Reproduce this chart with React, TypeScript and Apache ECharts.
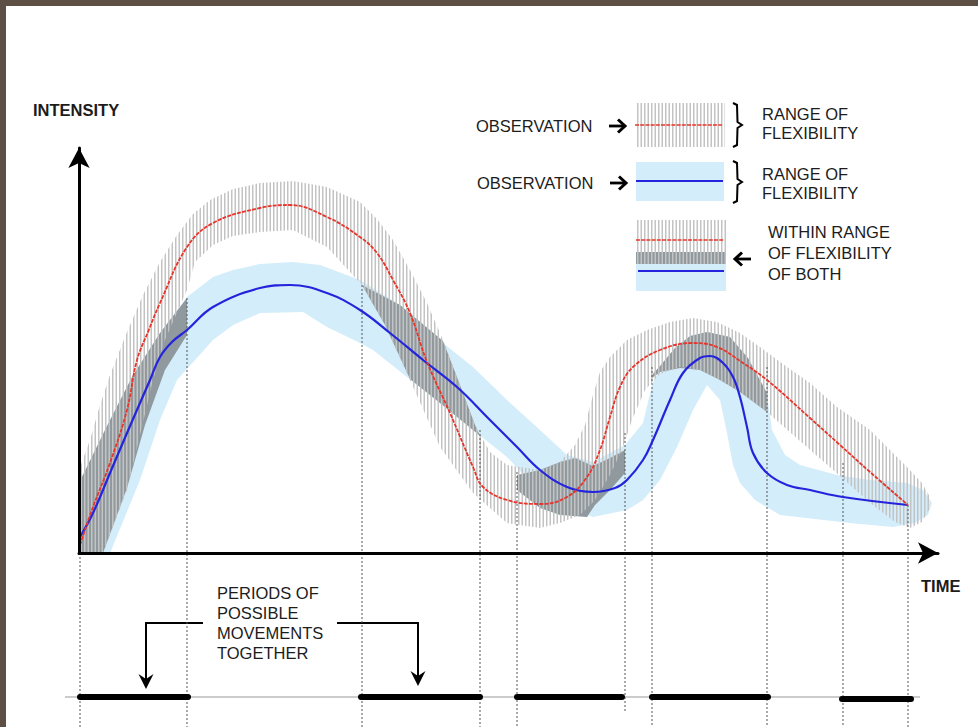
import React, { useEffect, useRef } from "react";
import * as echarts from "echarts";

// Units: time 0 at the origin of the axes, intensity 0 on the time axis.
const redObservation = [
  [1, 8], [14, 46], [31, 90], [48, 143], [58, 193], [69, 221], [81, 250], [108, 306],
  [134, 330], [181, 345], [211, 348], [248, 336], [281, 316], [298, 300], [314, 273],
  [331, 240], [348, 191], [371, 140], [394, 86], [404, 66], [428, 53], [461, 49],
  [488, 56], [508, 76], [521, 103], [531, 136], [541, 166], [554, 186], [581, 203],
  [614, 210], [638, 206], [664, 190], [688, 173], [731, 135], [761, 108], [791, 81], [829, 48],
];

const blueObservation = [
  [1, 16], [14, 40], [31, 80], [48, 120], [71, 173], [81, 196], [93, 211], [108, 223], [134, 246],
  [181, 265], [211, 268], [248, 260], [281, 243], [311, 220], [344, 193], [378, 166],
  [411, 133], [438, 106], [461, 83], [488, 66], [514, 61], [536, 65], [548, 73], [564, 93],
  [574, 113], [591, 153], [604, 180], [621, 195], [631, 197], [644, 190], [654, 176],
  [661, 156], [668, 126], [674, 100], [688, 80], [708, 68], [731, 63], [764, 56], [829, 48],
];

const redRangeUpper = [
  [0, 83], [11, 113], [21, 148], [31, 178], [48, 221], [64, 258], [81, 291], [98, 318],
  [114, 339], [131, 353], [154, 364], [181, 370], [214, 372], [248, 366], [281, 351],
  [298, 334], [314, 313], [331, 283], [348, 250], [364, 213], [381, 168], [396, 128],
  [411, 101], [428, 88], [461, 83], [481, 91], [496, 108], [506, 128], [514, 158],
  [521, 181], [531, 196], [548, 213], [568, 223], [591, 231], [614, 235], [638, 231],
  [661, 220], [681, 206], [708, 186], [731, 170], [758, 146], [791, 123], [828, 86],
  [843, 70], [851, 56],
];
const redRangeLower = [
  [851, 45], [843, 31], [831, 25], [816, 31], [791, 50], [761, 77], [721, 112], [688, 141],
  [661, 161], [641, 173], [621, 183], [601, 186], [581, 179], [566, 163], [553, 133],
  [543, 103], [531, 78], [516, 53], [501, 38], [481, 30], [461, 25], [428, 30], [394, 60],
  [361, 106], [331, 173], [306, 228], [283, 268], [248, 306], [214, 323], [181, 321],
  [154, 317], [134, 308], [116, 291], [108, 263], [86, 213], [74, 173], [48, 63], [24, 0], [0, 0],
];

const blueRangeUpper = [
  [0, 70], [27, 125], [53, 176], [81, 220], [108, 256], [134, 276], [154, 283], [181, 289],
  [214, 291], [241, 288], [281, 273], [321, 248], [364, 210], [394, 186], [428, 153],
  [461, 123], [488, 98], [514, 91], [546, 108], [564, 130], [573, 168], [581, 185],
  [596, 205], [611, 217], [628, 221], [651, 216], [669, 193], [688, 158], [693, 123],
  [706, 98], [721, 88], [758, 78], [791, 73], [828, 70], [844, 63], [853, 50],
];
const blueRangeLower = [
  [849, 38], [836, 30], [814, 26], [771, 30], [701, 38], [676, 53], [661, 70], [654, 88],
  [648, 120], [641, 153], [628, 168], [614, 143], [598, 106], [581, 73], [564, 53],
  [548, 43], [514, 36], [481, 46], [461, 61], [428, 96], [394, 123], [361, 150], [328, 176],
  [294, 203], [281, 210], [248, 226], [224, 241], [181, 240], [154, 228], [134, 213],
  [116, 193], [98, 173], [81, 133], [61, 73], [31, 0], [0, 0],
];

const overlapA = [
  [0, 70], [27, 125], [53, 176], [81, 220], [108, 255], [108, 218], [86, 183], [66, 128],
  [48, 65], [24, 0], [0, 0],
];
const overlapB = [
  [283, 268], [321, 248], [364, 212], [381, 168], [396, 128], [401, 117], [394, 123],
  [361, 150], [331, 174], [306, 228],
];
const overlapC = [
  [438, 78], [461, 83], [481, 91], [496, 95], [514, 87], [531, 95], [546, 103], [546, 80],
  [531, 63], [516, 48], [508, 36], [481, 38], [461, 45], [438, 63],
];
const overlapD = [
  [573, 178], [581, 187], [596, 205], [611, 217], [628, 221], [651, 216], [669, 195],
  [688, 160], [688, 141], [661, 161], [641, 173], [621, 183], [601, 185], [581, 181], [573, 175],
];

// [time, from intensity, to intensity]
const guideLines = [
  [1, 0, -174], [108, 255, -174], [283, 268, -174], [401, 123, -174], [438, 81, -174],
  [546, 120, -160], [573, 186, -174], [688, 186, -174], [764, 90, -174], [829, 48, -174],
];
// [start, end, level]
const periods = [
  [1, 109, -144], [282, 401, -144], [438, 543, -144], [573, 689, -144], [763, 832, -146],
];
const periodBaseline = [[-14, 841, -144]];

const RED = "#e8352b";
const BLUE = "#2424dc";
const LIGHT_BLUE = "#d3edfa";
const DARK = "#8f999e";
const TEXT = "#1c1c1c";
const FONT = '16.5px "Liberation Sans", Arial, sans-serif';
const BOLD = 'bold 16.5px "Liberation Sans", Arial, sans-serif';

const hatchSvg =
  "<svg xmlns='http://www.w3.org/2000/svg' width='7' height='8'>" +
  "<rect x='0' y='0' width='1.5' height='8' fill='#c3c3c3'/>" +
  "<rect x='3.5' y='0' width='1.5' height='8' fill='#c3c3c3'/></svg>";
const hatch = {
  image: "data:image/svg+xml;charset=utf-8," + encodeURIComponent(hatchSvg),
  repeat: "repeat",
  imageWidth: 7,
  imageHeight: 8,
};

function polygonSeries(pts: number[][], fill: any, z: number) {
  return {
    type: "custom",
    coordinateSystem: "cartesian2d",
    data: [pts[0]],
    clip: false,
    silent: true,
    z,
    renderItem: (_p: any, api: any) => ({
      type: "polygon",
      shape: { points: pts.map((p) => api.coord(p)) },
      style: { fill, stroke: "none" },
    }),
  };
}

function segmentSeries(data: number[][], vertical: boolean, style: any, z: number) {
  return {
    type: "custom",
    coordinateSystem: "cartesian2d",
    data,
    clip: false,
    silent: true,
    z,
    encode: vertical ? { x: 0, y: [1, 2] } : { x: [0, 1], y: 2 },
    renderItem: (_p: any, api: any) => {
      const a = vertical
        ? api.coord([api.value(0), api.value(1)])
        : api.coord([api.value(0), api.value(2)]);
      const b = vertical
        ? api.coord([api.value(0), api.value(2)])
        : api.coord([api.value(1), api.value(2)]);
      return {
        type: "line",
        shape: { x1: a[0], y1: a[1], x2: b[0], y2: b[1] },
        style,
      };
    },
  };
}

function txt(text: string, x: number, y: number, font = FONT) {
  return {
    type: "text",
    x,
    y,
    silent: true,
    style: { text, font, fill: TEXT, textVerticalAlign: "middle", textAlign: "left" },
  };
}

function rightArrow(x: number, y: number) {
  return [
    { type: "line", shape: { x1: x, y1: y, x2: x + 15, y2: y }, style: { stroke: "#000", lineWidth: 2.8 } },
    {
      type: "polyline",
      shape: { points: [[x + 9, y - 6.5], [x + 16, y], [x + 9, y + 6.5]] },
      style: { stroke: "#000", lineWidth: 3, fill: "none" },
    },
  ];
}

function brace(x: number, y1: number, y2: number) {
  const m = (y1 + y2) / 2;
  return {
    type: "polyline",
    shape: {
      points: [[x, y1], [x + 4, y1 + 2], [x + 4.5, m - 3], [x + 9, m], [x + 4.5, m + 3], [x + 4, y2 - 2], [x, y2]],
    },
    style: { stroke: "#000", lineWidth: 2, fill: "none" },
  };
}

function stealthDown(x: number, tip: number) {
  return {
    type: "polygon",
    shape: { points: [[x, tip], [x - 7.5, tip - 15], [x, tip - 10], [x + 7.5, tip - 15]] },
    style: { fill: "#000" },
  };
}

export default function App() {
  const ref = useRef<HTMLDivElement>(null);
  useEffect(() => {
    const chart = echarts.init(ref.current!, null, { renderer: "svg" });
    const axisCommon = {
      type: "value",
      axisTick: { show: false },
      axisLabel: { show: false },
      splitLine: { show: false },
      z: 10,
    };
    const option: any = {
      animation: false,
      backgroundColor: "#ffffff",
      grid: { left: 79, top: 148, right: 40, bottom: 174 },
      xAxis: {
        ...axisCommon,
        min: 0,
        max: 859,
        axisLine: { show: true, symbol: ["none", "arrow"], symbolSize: [16, 20], lineStyle: { color: "#000", width: 3 } },
      },
      yAxis: {
        ...axisCommon,
        min: 0,
        max: 405,
        axisLine: { show: true, symbol: ["none", "arrow"], symbolSize: [16, 20], lineStyle: { color: "#000", width: 3 } },
      },
      series: [
        polygonSeries(blueRangeUpper.concat(blueRangeLower), LIGHT_BLUE, 1),
        polygonSeries(overlapA, DARK, 2),
        polygonSeries(overlapB, DARK, 2),
        polygonSeries(overlapC, DARK, 2),
        polygonSeries(overlapD, DARK, 2),
        polygonSeries(redRangeUpper.concat(redRangeLower), hatch, 3),
        segmentSeries(guideLines, true, { stroke: "#555", lineWidth: 1, lineDash: [2, 2] }, 4),
        segmentSeries(periodBaseline, false, { stroke: "#999", lineWidth: 1 }, 4),
        segmentSeries(periods, false, { stroke: "#000", lineWidth: 6, lineCap: "round" }, 5),
        {
          type: "line",
          data: blueObservation,
          symbol: "none",
          smooth: 0.4,
          silent: true,
          lineStyle: { color: BLUE, width: 2.2 },
          z: 6,
        },
        {
          type: "line",
          data: redObservation,
          symbol: "none",
          smooth: 0.4,
          silent: true,
          lineStyle: { color: RED, width: 1.8, type: [4, 1.2] },
          z: 7,
        },
      ],
      graphic: [
        { type: "rect", shape: { x: 0, y: 0, width: 978, height: 6 }, style: { fill: "#5e4f45" }, silent: true },
        { type: "rect", shape: { x: 0, y: 0, width: 6, height: 727 }, style: { fill: "#5e4f45" }, silent: true },
        txt("INTENSITY", 33, 110, BOLD),
        txt("TIME", 921, 586, BOLD),
        // legend 1
        { type: "rect", shape: { x: 635, y: 103, width: 90, height: 44 }, style: { fill: hatch } },
        { type: "line", shape: { x1: 635, y1: 125, x2: 722, y2: 125 }, style: { stroke: RED, lineWidth: 1.6, lineDash: [4, 1.2] } },
        txt("OBSERVATION", 476, 126),
        ...rightArrow(609, 126),
        brace(733, 103, 147),
        txt("RANGE OF", 762, 114),
        txt("FLEXIBILITY", 762, 133),
        // legend 2
        { type: "rect", shape: { x: 636, y: 162, width: 88, height: 39 }, style: { fill: LIGHT_BLUE } },
        { type: "line", shape: { x1: 636, y1: 181, x2: 723, y2: 181 }, style: { stroke: BLUE, lineWidth: 2.2 } },
        txt("OBSERVATION", 477, 183),
        ...rightArrow(610, 183),
        brace(733, 161, 203),
        txt("RANGE OF", 762, 174),
        txt("FLEXIBILITY", 762, 193),
        // legend 3
        { type: "rect", shape: { x: 636, y: 252, width: 90, height: 39 }, style: { fill: LIGHT_BLUE } },
        { type: "rect", shape: { x: 636, y: 252, width: 90, height: 12 }, style: { fill: DARK } },
        { type: "rect", shape: { x: 636, y: 220, width: 90, height: 44 }, style: { fill: hatch } },
        { type: "line", shape: { x1: 636, y1: 240, x2: 724, y2: 240 }, style: { stroke: RED, lineWidth: 1.6, lineDash: [4, 1.2] } },
        { type: "line", shape: { x1: 638, y1: 271, x2: 724, y2: 271 }, style: { stroke: BLUE, lineWidth: 2.2 } },
        { type: "line", shape: { x1: 735, y1: 259, x2: 751, y2: 259 }, style: { stroke: "#000", lineWidth: 2.8 } },
        { type: "polyline", shape: { points: [[742, 252.5], [735, 259], [742, 265.5]] }, style: { stroke: "#000", lineWidth: 3, fill: "none" } },
        txt("WITHIN RANGE", 768, 232),
        txt("OF FLEXIBILITY", 768, 253),
        txt("OF BOTH", 768, 274),
        // periods annotation
        txt("PERIODS OF", 217, 593),
        txt("POSSIBLE", 217, 613),
        txt("MOVEMENTS", 217, 633),
        txt("TOGETHER", 217, 653),
        { type: "polyline", shape: { points: [[203, 623], [146, 623], [146, 680]] }, style: { stroke: "#000", lineWidth: 2, fill: "none" } },
        stealthDown(146, 689),
        { type: "polyline", shape: { points: [[337, 623], [418, 623], [418, 677]] }, style: { stroke: "#000", lineWidth: 2, fill: "none" } },
        stealthDown(418, 686),
      ],
    };
    chart.setOption(option);
    return () => chart.dispose();
  }, []);
  return (
    <div
      ref={ref}
      style={{ position: "fixed", left: 0, top: 0, width: 978, height: 727, background: "#fff" }}
    />
  );
}
